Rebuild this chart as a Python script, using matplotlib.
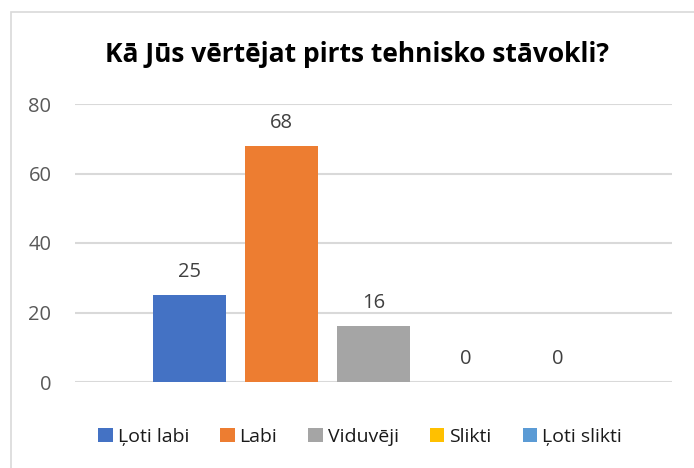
import matplotlib.pyplot as plt
from matplotlib.patches import Rectangle
import numpy as np

plt.rcParams['font.family'] = ['Open Sans', 'DejaVu Sans']

# data
categories = ['Ļoti labi', 'Labi', 'Viduvēji', 'Slikti', 'Ļoti slikti']
values = [25, 68, 16, 0, 0]
colors = ['#4472C4', '#ED7D31', '#A5A5A5', '#FFC000', '#5B9BD5']
yticks = [0, 20, 40, 60, 80]
title = 'Kā Jūs vērtējat pirts tehnisko stāvokli?'

fig = plt.figure(figsize=(6.94, 4.68), dpi=100)
fig.patch.set_facecolor('white')

# chart border (right/bottom edges fall outside the image)
fig.patches.append(Rectangle((11 / 694, -0.1), 1.2, (468 - 12) / 468 + 0.1,
                             transform=fig.transFigure, fill=False,
                             edgecolor='#D9D9D9', linewidth=1.2))

ax = fig.add_axes([75 / 694, (468 - 382) / 468, (672 - 75) / 694, (382 - 104) / 468])

x = np.arange(len(categories))
width = 73 / 92
for i in range(len(categories)):
    ax.bar(x[i], values[i], width, color=colors[i], label=categories[i], zorder=3)
    ax.annotate(str(values[i]), (x[i], values[i]), xytext=(0, 13),
                textcoords='offset points', ha='center', va='baseline',
                fontsize=14.5, color='#404040')

ax.set_xlim(2 - 597 / 92 / 2, 2 + 597 / 92 / 2)
ax.set_ylim(0, 80)
ax.set_yticks(yticks)
ax.set_xticks([])
ax.tick_params(axis='y', length=0, pad=17, labelsize=14.5, labelcolor='#595959')
ax.grid(True, axis='y', color='#D9D9D9', linewidth=1.5, zorder=0)
ax.set_axisbelow(True)
for s in ax.spines.values():
    s.set_visible(False)

fig.text(357 / 694, 1 - 55 / 468, title, ha='center', va='center',
         fontsize=19, fontweight='bold', color='black')

ax.legend(loc='center', bbox_to_anchor=(360 / 694, 1 - 437 / 468),
          bbox_transform=fig.transFigure, ncol=5, frameon=False,
          fontsize=14, handlelength=0.75, handleheight=0.75,
          handletextpad=0.25, columnspacing=1.6, labelcolor='#1A1A1A')

fig.savefig('out.png', dpi=100, facecolor='white')
